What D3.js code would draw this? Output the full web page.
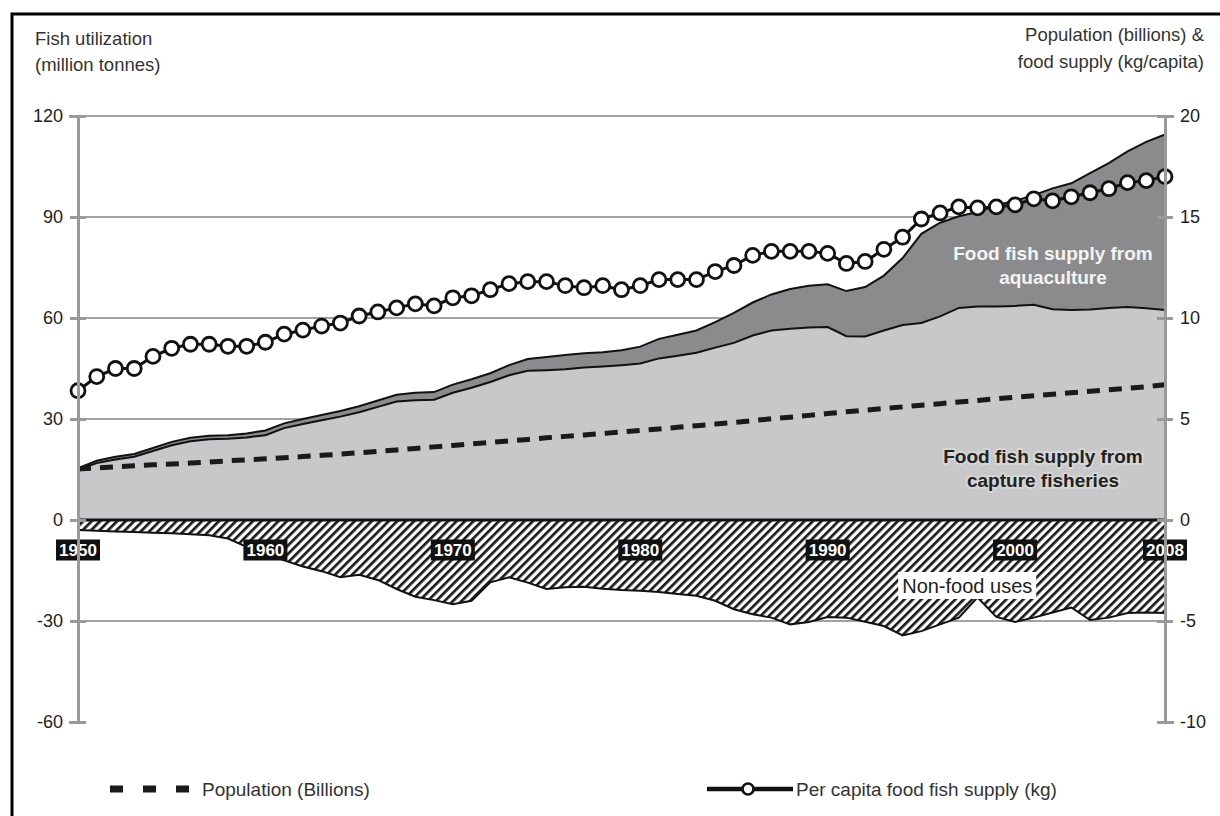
<!DOCTYPE html>
<html>
<head>
<meta charset="utf-8">
<script src="https://cdn.jsdelivr.net/npm/d3@7"></script>
<style>
  html, body { margin: 0; padding: 0; background: #fff; }
  svg { display: block; font-family: "Liberation Sans", Arial, sans-serif; }
</style>
</head>
<body>
<svg id="chart" width="1220" height="816"></svg>
<script>
// ---------------- DATA ----------------
const years = d3.range(1950, 2009);

// Food fish supply from capture fisheries (million tonnes)
const captureFood = [
  15.0, 16.9, 18.0, 18.8, 20.5, 22.2, 23.4, 24.0, 24.1, 24.5,
  25.2, 27.3, 28.5, 29.6, 30.7, 32.0, 33.6, 35.2, 35.6, 35.7,
  37.8, 39.3, 41.0, 43.0, 44.3, 44.5, 44.8, 45.3, 45.6, 46.0,
  46.5, 48.0, 48.8, 49.7, 51.2, 52.6, 54.8, 56.3, 56.8, 57.2,
  57.3, 54.6, 54.5, 56.3, 57.9, 58.5, 60.5, 63.0, 63.4, 63.4,
  63.6, 63.9, 62.6, 62.4, 62.5, 63.0, 63.3, 62.9, 62.4
];

// Total food fish supply (capture + aquaculture), million tonnes
const totalFood = [
  15.4, 17.6, 18.8, 19.6, 21.4, 23.2, 24.4, 25.0, 25.2, 25.7,
  26.6, 28.7, 30.0, 31.2, 32.4, 33.8, 35.5, 37.2, 37.8, 38.0,
  40.2, 41.8, 43.6, 46.0, 47.8, 48.4, 49.0, 49.5, 49.8, 50.4,
  51.5, 53.8, 55.0, 56.3, 58.8, 61.5, 64.6, 67.0, 68.6, 69.6,
  70.0, 68.0, 69.2, 72.6, 77.8, 85.0, 88.3, 90.2, 91.5, 93.5,
  94.8, 96.5, 98.5, 100.0, 103.0, 106.0, 109.5, 112.3, 114.5
];

// Non-food uses (plotted negative), million tonnes
const nonFood = [
  -3.0, -3.2, -3.4, -3.6, -3.8, -3.9, -4.2, -4.5, -5.5, -8.0,
  -10.0, -12.0, -13.8, -15.2, -17.0, -16.3, -17.8, -20.5, -22.8, -23.8,
  -25.0, -24.0, -18.5, -17.0, -18.6, -20.5, -20.0, -19.8, -20.4, -20.8,
  -21.0, -21.4, -22.0, -22.5, -24.0, -26.5, -28.0, -29.0, -31.0, -30.3,
  -28.8, -29.0, -30.2, -31.5, -34.3, -33.0, -31.0, -29.0, -23.0, -28.8,
  -30.3, -29.0, -27.5, -26.0, -29.7, -29.0, -27.6, -27.5, -27.6
];

// Population (billions) - right axis
const population = [
  2.53, 2.58, 2.63, 2.68, 2.73, 2.77, 2.82, 2.87, 2.93, 2.98,
  3.03, 3.08, 3.14, 3.20, 3.26, 3.33, 3.40, 3.47, 3.54, 3.62,
  3.69, 3.77, 3.84, 3.92, 3.99, 4.07, 4.14, 4.21, 4.28, 4.36,
  4.43, 4.51, 4.59, 4.67, 4.75, 4.83, 4.92, 5.01, 5.09, 5.18,
  5.27, 5.36, 5.44, 5.52, 5.60, 5.68, 5.76, 5.84, 5.92, 6.00,
  6.07, 6.15, 6.22, 6.30, 6.37, 6.45, 6.52, 6.60, 6.70
];

// Per capita food fish supply (kg) - right axis
const perCapita = [
  6.4, 7.1, 7.5, 7.5, 8.1, 8.5, 8.7, 8.7, 8.6, 8.6,
  8.8, 9.2, 9.4, 9.6, 9.75, 10.1, 10.3, 10.5, 10.7, 10.6,
  11.0, 11.1, 11.4, 11.7, 11.8, 11.8, 11.6, 11.5, 11.6, 11.4,
  11.6, 11.9, 11.9, 11.9, 12.3, 12.6, 13.1, 13.3, 13.3, 13.3,
  13.2, 12.7, 12.8, 13.4, 14.0, 14.9, 15.2, 15.5, 15.45, 15.5,
  15.6, 15.9, 15.8, 16.0, 16.2, 16.4, 16.7, 16.8, 17.0
];

const leftTicks = [-60, -30, 0, 30, 60, 90, 120];
const rightTicks = [-10, -5, 0, 5, 10, 15, 20];
const yearLabels = [1950, 1960, 1970, 1980, 1990, 2000, 2008];

const leftTitle = ["Fish utilization", "(million tonnes)"];
const rightTitle = ["Population (billions) &", "food supply (kg/capita)"];
const aquaLabel = ["Food fish supply from", "aquaculture"];
const captureLabel = ["Food fish supply from", "capture fisheries"];
const nonFoodLabel = "Non-food uses";
const legendLabels = ["Population (Billions)", "Per capita food fish supply (kg)"];

// ---------------- CHART ----------------
const svg = d3.select("#chart");
const x = d3.scaleLinear().domain([1950, 2008]).range([78, 1165]);
const yL = d3.scaleLinear().domain([-60, 120]).range([722, 116]);
const yR = d3.scaleLinear().domain([-10, 20]).range([722, 116]);

const data = years.map((yr, i) => ({
  year: yr, cap: captureFood[i], tot: totalFood[i], nf: nonFood[i],
  pop: population[i], pc: perCapita[i]
}));

// hatch pattern
const defs = svg.append("defs");
const pat = defs.append("pattern")
  .attr("id", "hatch").attr("patternUnits", "userSpaceOnUse")
  .attr("width", 6).attr("height", 6)
  .attr("patternTransform", "rotate(45)");
pat.append("rect").attr("width", 6).attr("height", 6).attr("fill", "#fff");
pat.append("line").attr("x1", 0).attr("y1", 0).attr("x2", 0).attr("y2", 6)
  .attr("stroke", "#1a1a1a").attr("stroke-width", 5.4);

// outer frame
svg.append("path")
  .attr("d", "M12,820 L12,14 L1225,14")
  .attr("fill", "none").attr("stroke", "#000").attr("stroke-width", 3);

// gridlines
svg.append("g").selectAll("line")
  .data(leftTicks.filter(t => t > -60 && t !== 0))
  .join("line")
  .attr("x1", x(1950)).attr("x2", x(2008))
  .attr("y1", d => yL(d)).attr("y2", d => yL(d))
  .attr("stroke", "#a3a3a3").attr("stroke-width", 2);

// areas
const areaCap = d3.area().x(d => x(d.year)).y0(yL(0)).y1(d => yL(d.cap));
const areaAqua = d3.area().x(d => x(d.year)).y0(d => yL(d.cap)).y1(d => yL(d.tot));
const areaNF = d3.area().x(d => x(d.year)).y0(yL(0)).y1(d => yL(d.nf));

svg.append("path").datum(data).attr("d", areaCap).attr("fill", "#c8c8ca");
svg.append("path").datum(data).attr("d", areaAqua).attr("fill", "#8b8b8d");
svg.append("path").datum(data).attr("d", areaNF).attr("fill", "url(#hatch)");

const lineOf = (acc, ys) => d3.line().x(d => x(d.year)).y(d => ys(acc(d)));
svg.append("path").datum(data).attr("d", lineOf(d => d.cap, yL))
  .attr("fill", "none").attr("stroke", "#111").attr("stroke-width", 2);
svg.append("path").datum(data).attr("d", lineOf(d => d.tot, yL))
  .attr("fill", "none").attr("stroke", "#111").attr("stroke-width", 2);
svg.append("path").datum(data).attr("d", lineOf(d => d.nf, yL))
  .attr("fill", "none").attr("stroke", "#111").attr("stroke-width", 2);
svg.append("line").attr("x1", x(1950)).attr("x2", x(2008))
  .attr("y1", yL(0)).attr("y2", yL(0))
  .attr("stroke", "#111").attr("stroke-width", 3);

// year labels (boxes on the zero line)
const yl = svg.append("g").selectAll("g").data(yearLabels).join("g")
  .attr("transform", d => `translate(${x(d)},550)`);
yl.append("rect").attr("x", -22).attr("y", -10.5).attr("width", 44).attr("height", 21)
  .attr("fill", "#111");
yl.append("text").text(d => d).attr("text-anchor", "middle").attr("dy", "0.36em")
  .attr("fill", "#fff").attr("font-weight", "bold").attr("font-size", 17);

// non-food label
const nfg = svg.append("g").attr("transform", `translate(${x(1997.5) - 1},586)`);
nfg.append("rect").attr("x", -69).attr("y", -14).attr("width", 138).attr("height", 27).attr("fill", "#fff");
nfg.append("text").text(nonFoodLabel).attr("text-anchor", "middle").attr("dy", "0.36em")
  .attr("font-size", 20).attr("fill", "#222");

// population dashed line
svg.append("path").datum(data).attr("d", lineOf(d => d.pop, yR))
  .attr("fill", "none").attr("stroke", "#1a1a1a").attr("stroke-width", 5)
  .attr("stroke-dasharray", "13,9");

// per-capita line with circles
svg.append("path").datum(data).attr("d", lineOf(d => d.pc, yR))
  .attr("fill", "none").attr("stroke", "#111").attr("stroke-width", 3);
svg.append("g").selectAll("circle").data(data).join("circle")
  .attr("cx", d => x(d.year)).attr("cy", d => yR(d.pc)).attr("r", 7)
  .attr("fill", "#fff").attr("stroke", "#111").attr("stroke-width", 2.8);

// area labels
const lab = (lines, cx, y0, fill, halo) => {
  const t = svg.append("text").attr("text-anchor", "middle")
    .attr("font-weight", "bold").attr("font-size", 19).attr("fill", fill);
  if (halo) t.attr("stroke", halo).attr("stroke-width", 4).attr("paint-order", "stroke")
    .attr("stroke-linejoin", "round");
  lines.forEach((l, i) => t.append("tspan").attr("x", cx).attr("y", y0 + i * 24)
    .attr("dy", "0.36em").text(l));
};
lab(aquaLabel, 1053, 253, "#f4f4f4", null);
lab(captureLabel, 1043, 456, "#222", "#d6d6d6");

// axes
const fmt = d => String(d);
const axL = svg.append("g").attr("transform", `translate(${x(1950)},0)`)
  .call(d3.axisLeft(yL).tickValues(leftTicks).tickFormat(fmt).tickSize(9).tickPadding(6));
const axR = svg.append("g").attr("transform", `translate(${x(2008)},0)`)
  .call(d3.axisRight(yR).tickValues(rightTicks).tickFormat(fmt).tickSize(9).tickPadding(6));
[axL, axR].forEach(a => {
  a.select(".domain").attr("stroke", "#9a9a9a").attr("stroke-width", 3);
  a.selectAll(".tick line").attr("stroke", "#9a9a9a").attr("stroke-width", 3);
  a.selectAll(".tick text").attr("font-size", 18).attr("fill", "#222")
    .attr("font-family", "Liberation Sans, Arial, sans-serif");
});
axL.selectAll(".tick line").attr("x1", 8).attr("x2", -8);
axR.selectAll(".tick line").attr("x1", -8).attr("x2", 8);

// axis titles
leftTitle.forEach((t, i) => svg.append("text").attr("x", 35).attr("y", 38 + i * 26)
  .attr("dy", "0.36em").attr("font-size", 18.5).attr("fill", "#333").text(t));
rightTitle.forEach((t, i) => svg.append("text").attr("x", 1204).attr("y", 34 + i * 27)
  .attr("dy", "0.36em").attr("text-anchor", "end").attr("font-size", 18.5).attr("fill", "#333").text(t));

// legend
const lg = svg.append("g");
lg.append("line").attr("x1", 110).attr("x2", 190).attr("y1", 789).attr("y2", 789)
  .attr("stroke", "#1a1a1a").attr("stroke-width", 7).attr("stroke-dasharray", "13,20");
lg.append("text").attr("x", 202).attr("y", 789).attr("dy", "0.36em")
  .attr("font-size", 19).attr("fill", "#333").text(legendLabels[0]);
lg.append("line").attr("x1", 707).attr("x2", 793).attr("y1", 789).attr("y2", 789)
  .attr("stroke", "#111").attr("stroke-width", 4.5);
lg.append("circle").attr("cx", 748).attr("cy", 789).attr("r", 5.5)
  .attr("fill", "#fff").attr("stroke", "#111").attr("stroke-width", 2.6);
lg.append("text").attr("x", 796).attr("y", 789).attr("dy", "0.36em")
  .attr("font-size", 19).attr("fill", "#333").text(legendLabels[1]);
</script>
</body>
</html>
